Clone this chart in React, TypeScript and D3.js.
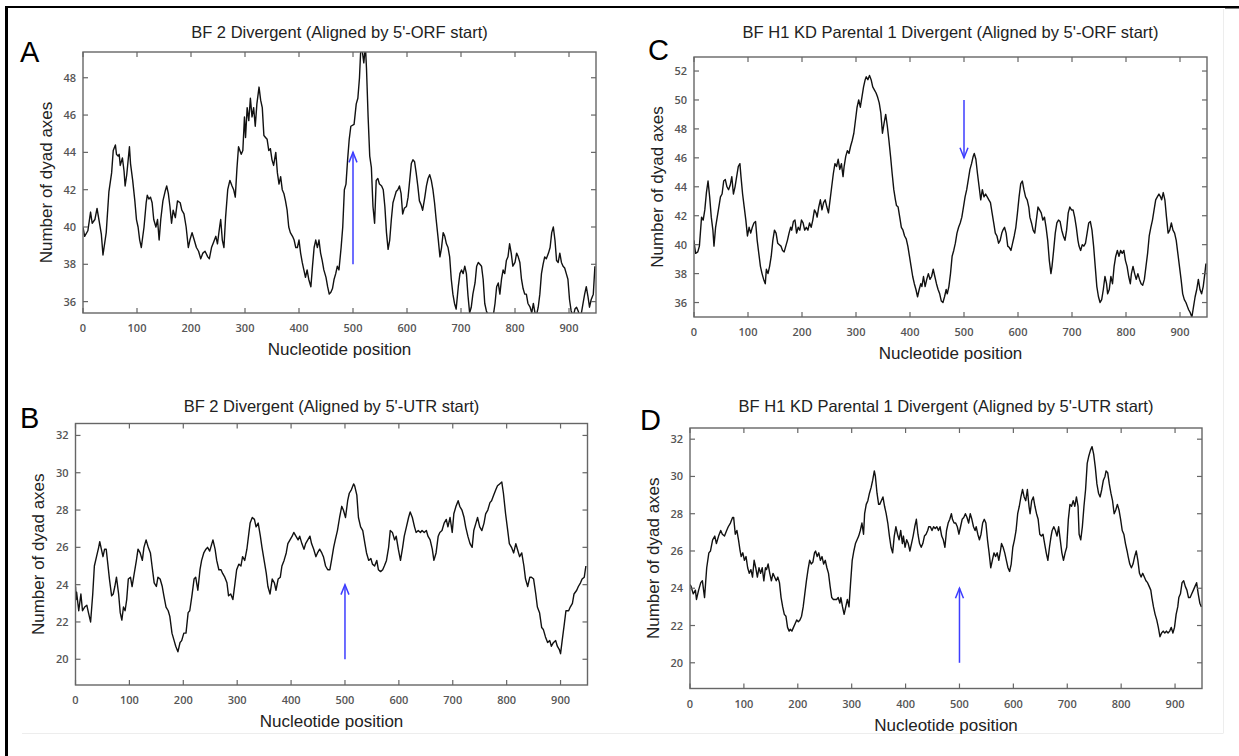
import React from "react";
import * as d3 from "d3";

const xTicks = [0, 100, 200, 300, 400, 500, 600, 700, 800, 900];
const yTicksA = [36, 38, 40, 42, 44, 46, 48];
const yTicksC = [36, 38, 40, 42, 44, 46, 48, 50, 52];
const yTicksBD = [20, 22, 24, 26, 28, 30, 32];

const titleA = "BF 2 Divergent (Aligned by 5'-ORF start)";
const titleB = "BF 2 Divergent (Aligned by 5'-UTR start)";
const titleC = "BF H1 KD Parental 1 Divergent (Aligned by 5'-ORF start)";
const titleD = "BF H1 KD Parental 1 Divergent (Aligned by 5'-UTR start)";
const xLabel = "Nucleotide position";
const yLabel = "Number of dyad axes";

// [nucleotide position, number of dyad axes]
const seriesA: [number, number][] = [
  [0,40.0],[3,39.5],[9,39.8],[14,40.8],[17,40.2],[22,40.4],[26,41.0],[30,40.3],[34,39.6],[37,38.5],[43,39.7],[48,41.9],[53,42.9],[56,44.1],[60,44.4],[62,43.9],[65,43.8],[67,43.9],[69,43.3],[73,43.7],[76,43.0],[78,42.2],[81,42.8],[86,44.3],[88,43.4],[92,42.5],[96,41.4],[99,40.4],[102,40.0],[105,39.3],[108,38.9],[113,40.0],[117,41.3],[119,41.7],[122,41.5],[125,41.6],[128,41.3],[131,40.4],[135,40.0],[138,40.4],[141,39.3],[144,40.4],[148,41.4],[152,41.9],[155,42.2],[158,41.8],[161,41.1],[164,40.2],[167,40.9],[171,40.5],[175,41.4],[180,41.3],[183,40.9],[187,40.7],[191,40.0],[195,38.9],[198,39.3],[202,39.7],[206,39.3],[210,38.9],[214,38.7],[218,38.3],[222,38.6],[226,38.7],[231,38.4],[234,38.3],[238,38.9],[242,39.2],[246,39.5],[249,39.1],[253,40.0],[255,40.4],[258,39.3],[261,38.9],[264,40.5],[268,42.0],[272,42.5],[276,42.2],[279,42.0],[282,41.6],[285,43.1],[288,44.3],[293,43.9],[296,44.1],[299,45.9],[301,44.8],[304,46.4],[307,45.7],[310,46.9],[313,45.9],[316,46.4],[319,45.4],[322,46.6],[326,47.5],[329,46.8],[332,46.4],[335,44.9],[338,44.8],[341,44.7],[344,44.1],[347,44.2],[350,43.6],[353,43.3],[357,44.0],[360,42.9],[363,42.3],[366,42.7],[369,42.0],[372,41.8],[375,41.4],[378,40.9],[381,40.0],[384,39.7],[388,39.5],[391,39.3],[394,38.9],[397,38.9],[400,39.3],[403,38.6],[406,38.1],[409,37.7],[412,37.3],[415,37.7],[418,37.2],[422,36.8],[425,37.9],[428,38.9],[431,39.3],[434,38.9],[437,39.3],[440,38.6],[443,38.2],[446,37.7],[450,37.3],[453,36.8],[456,36.4],[459,36.5],[462,36.7],[465,37.2],[468,37.5],[471,37.9],[474,37.7],[478,38.9],[481,40.0],[484,42.0],[487,42.3],[490,43.6],[493,44.7],[496,45.4],
  [502,45.5],[506,46.6],[509,46.9],[512,48.0],[514,49.3],[516,49.7],[520,48.8],[523,49.7],[525,48.5],[528,45.9],[531,43.8],[534,43.2],[537,41.1],[540,40.2],[543,42.5],[546,42.6],[549,42.3],[553,42.2],[556,42.0],[559,41.1],[562,39.7],[565,38.8],[568,39.3],[571,40.4],[574,41.3],[577,41.6],[580,41.9],[583,42.0],[586,42.2],[589,41.8],[592,40.7],[595,41.0],[599,41.1],[602,41.6],[605,42.5],[608,43.4],[611,43.6],[614,43.5],[617,42.9],[620,42.2],[623,41.4],[626,41.2],[629,40.9],[633,41.6],[636,42.2],[639,42.6],[642,42.8],[645,42.5],[648,42.0],[651,41.3],[654,40.4],[658,39.3],[661,38.4],[664,38.9],[667,39.7],[670,39.5],[673,39.1],[676,38.9],[679,38.4],[682,37.2],[685,36.4],[688,35.9],[691,35.6],[695,36.8],[698,37.5],[701,37.7],[704,37.5],[707,37.9],[710,37.5],[713,36.3],[716,35.4],[719,35.7],[722,36.4],[726,37.0],[729,37.9],[732,38.1],[735,38.0],[738,37.9],[741,37.2],[744,35.9],[747,35.5],[750,35.3],[753,35.3],[757,35.2],[760,35.3],[763,35.9],[766,36.8],[769,37.0],[772,36.4],[775,37.2],[778,37.7],[781,37.5],[784,38.2],[787,38.4],[790,39.1],[793,38.6],[796,37.9],[800,38.1],[803,38.6],[806,38.4],[809,38.1],[812,37.2],[815,36.7],[818,36.4],[821,36.4],[824,35.9],[828,35.7],[831,35.4],[834,35.9],[837,35.4],[840,35.3],[843,35.7],[846,36.4],[849,37.5],[852,38.0],[855,38.4],[858,38.3],[862,38.6],[865,38.9],[868,39.7],[871,40.0],[874,39.3],[877,38.2],[880,38.1],[883,38.6],[886,38.1],[889,37.9],[892,37.8],[895,37.5],[898,37.2],[901,36.1],[904,35.5],[908,35.2],[911,35.6],[914,35.7],[917,35.5],[920,35.2],[923,35.4],[926,35.9],[929,36.4],[932,36.8],[935,36.3],[938,35.7],[941,36.1],[945,36.4],[948,37.9]
];

const seriesB: [number, number][] = [
  [0,23.9],[1,23.2],[2,23.6],[6,22.6],[10,23.5],[13,22.6],[17,22.8],[21,22.9],[24,22.5],[28,22.0],[32,23.5],[35,25.0],[39,25.5],[43,26.0],[45,26.3],[48,25.9],[51,25.5],[54,25.9],[57,25.9],[60,25.1],[63,24.3],[67,23.4],[70,23.5],[73,23.9],[76,24.4],[80,23.5],[83,22.5],[86,22.1],[89,22.8],[92,22.6],[95,23.2],[98,24.3],[102,24.4],[105,23.9],[109,24.6],[113,25.3],[116,25.9],[120,25.7],[124,25.3],[127,26.0],[131,26.4],[135,26.0],[139,25.7],[142,25.0],[146,24.1],[150,23.9],[153,24.4],[157,24.3],[161,23.9],[164,23.4],[168,22.8],[172,22.6],[175,22.3],[179,21.4],[183,21.0],[186,20.7],[190,20.4],[194,20.9],[197,21.0],[201,21.4],[205,21.4],[209,22.5],[212,22.6],[216,23.4],[220,24.3],[223,24.4],[227,23.7],[231,24.8],[234,25.3],[238,25.7],[242,25.9],[245,26.0],[249,25.8],[253,26.2],[255,26.4],[259,25.9],[262,25.3],[266,24.8],[270,24.8],[273,24.6],[277,24.4],[281,24.1],[284,23.4],[288,23.5],[292,23.2],[296,24.1],[299,24.8],[303,25.1],[307,25.0],[310,25.5],[314,25.3],[318,25.9],[321,26.6],[324,27.3],[328,27.6],[332,27.5],[335,27.1],[339,27.3],[343,26.6],[346,26.0],[350,25.3],[354,24.6],[357,23.9],[361,23.5],[365,24.3],[369,24.1],[372,23.7],[376,24.3],[380,24.4],[383,25.0],[387,25.3],[391,25.7],[394,26.2],[398,26.4],[402,26.6],[405,26.8],[409,26.6],[413,26.4],[416,26.6],[420,26.2],[424,25.9],[427,26.2],[431,26.4],[435,26.6],[438,26.2],[442,25.9],[446,25.5],[449,25.7],[453,25.9],[457,25.7],[460,25.5],[464,25.0],[468,24.8],[472,24.8],[475,25.3],[479,26.0],[482,26.4],[486,26.9],[490,27.6],[494,28.2],[497,28.0],[501,27.6],[505,28.5],[508,28.9],[512,29.1],[516,29.4],[518,29.3],[522,28.8],[525,27.6],[529,27.1],[533,26.9],[537,26.2],[540,25.7],[544,25.3],[548,25.4],[551,25.1],[555,25.0],[559,25.3],[562,24.8],[566,24.7],[570,24.8],[573,25.0],[577,25.3],[581,26.0],[584,26.9],[588,26.8],[592,26.4],[595,26.6],[599,25.9],[603,25.3],[607,26.0],[610,26.6],[614,27.1],[618,27.6],[621,27.9],[625,27.6],[629,27.1],[632,26.8],[636,26.9],[640,26.8],[643,26.9],[647,26.8],[651,26.9],[654,26.6],[658,26.4],[662,25.9],[665,25.3],[669,25.7],[673,26.6],[676,26.8],[680,26.9],[684,27.3],[688,27.5],[691,27.1],[695,27.6],[699,26.8],[702,27.8],[706,28.2],[710,28.5],[713,28.2],[717,28.0],[721,27.6],[724,27.1],[728,26.6],[732,26.2],[736,26.0],[739,26.9],[743,27.3],[746,27.6],[750,27.1],[754,26.9],[758,27.3],[761,27.8],[765,28.0],[769,28.4],[772,28.5],[776,28.8],[780,29.1],[783,29.3],[787,29.4],[791,29.5],[794,28.9],[798,27.8],[802,26.9],[805,26.2],[809,26.0],[813,25.7],[817,26.2],[820,25.9],[824,25.5],[828,25.7],[832,25.0],[835,24.3],[839,23.9],[843,24.4],[846,24.4],[850,24.3],[854,23.5],[857,22.8],[861,22.5],[865,21.7],[868,21.6],[872,21.2],[876,20.9],[880,21.0],[883,20.7],[887,20.9],[891,21.0],[894,20.7],[898,20.5],[900,20.3],[903,21.0],[907,21.9],[910,22.6],[915,22.6],[918,22.8],[922,23.0],[925,23.5],[930,23.7],[933,23.9],[937,24.1],[940,24.3],[944,24.4],[947,25.0]
];

const seriesC: [number, number][] = [
  [0,40.3],[1,39.9],[3,39.4],[7,39.5],[10,39.9],[14,41.9],[17,41.7],[20,42.4],[23,43.6],[26,44.4],[29,43.3],[32,41.9],[35,41.0],[37,39.9],[40,41.2],[43,41.9],[46,42.6],[49,43.3],[52,43.5],[55,44.4],[58,44.5],[61,44.0],[64,43.8],[67,44.1],[70,44.7],[73,43.5],[76,44.0],[79,44.7],[82,45.4],[85,45.6],[87,44.7],[90,43.5],[93,42.6],[96,41.7],[99,40.6],[102,41.2],[105,40.8],[108,41.2],[111,41.5],[114,41.6],[117,40.3],[120,39.4],[123,38.5],[126,38.0],[129,37.6],[132,37.3],[134,38.3],[137,38.0],[140,38.5],[143,39.2],[146,40.3],[149,41.0],[152,40.8],[155,40.1],[158,40.0],[161,39.9],[164,39.6],[167,39.5],[170,39.9],[173,40.3],[176,40.8],[179,41.2],[181,41.0],[184,41.6],[187,41.7],[190,40.8],[193,41.2],[196,41.0],[199,41.7],[202,41.5],[205,41.0],[208,41.2],[211,41.0],[214,41.5],[217,41.2],[220,41.7],[223,42.4],[226,42.2],[228,41.9],[231,42.6],[234,43.1],[237,42.4],[240,42.9],[243,43.1],[246,42.6],[249,42.2],[252,43.1],[255,44.0],[258,44.9],[261,45.6],[264,45.4],[267,45.9],[270,45.2],[273,45.6],[276,44.7],[278,45.4],[281,46.1],[284,46.5],[287,46.3],[290,46.8],[293,47.2],[296,47.7],[299,48.6],[302,49.5],[305,50.0],[308,49.5],[311,50.2],[314,50.9],[317,51.4],[319,51.6],[322,51.4],[325,51.7],[328,51.4],[331,50.9],[334,50.7],[337,50.5],[340,50.2],[343,49.8],[346,49.1],[349,47.7],[352,48.4],[355,49.0],[358,48.2],[361,47.2],[364,46.1],[367,44.9],[370,43.8],[373,43.1],[375,42.7],[378,42.6],[381,41.9],[384,41.2],[387,41.0],[390,40.6],[393,40.4],[396,39.9],[399,39.2],[402,38.5],[405,37.8],[408,37.3],[411,36.9],[414,36.4],[417,36.9],[420,37.3],[422,37.1],[425,37.8],[428,37.1],[431,37.6],[434,38.0],[437,37.6],[440,37.8],[443,38.3],[446,37.8],[449,37.3],[452,36.9],[455,36.6],[458,36.1],[461,36.0],[464,36.4],[467,36.9],[469,36.6],[472,37.1],[475,38.0],[478,39.2],[481,39.6],[484,40.1],[487,40.8],[490,41.2],[493,41.5],[496,41.9],[499,42.6],[502,43.3],[505,43.8],[508,44.5],[511,45.2],[514,45.6],[517,46.1],[519,46.3],[522,45.9],[525,44.9],[528,44.0],[531,43.1],[534,43.8],[537,43.3],[540,43.5],[543,43.3],[546,43.1],[549,42.9],[552,42.2],[555,41.5],[558,40.8],[561,40.6],[564,40.1],[567,40.3],[570,40.8],[572,41.0],[575,41.2],[578,40.8],[581,39.9],[584,39.8],[587,39.6],[590,40.1],[593,40.6],[596,41.2],[599,42.2],[602,43.3],[605,44.2],[608,44.4],[611,43.8],[614,43.3],[617,43.1],[620,42.6],[622,41.9],[625,41.5],[628,41.0],[631,40.8],[634,41.7],[637,42.6],[640,42.4],[643,42.2],[646,41.7],[649,41.9],[652,41.2],[655,40.3],[658,38.9],[661,38.0],[663,38.5],[666,39.6],[669,40.8],[672,41.5],[675,41.7],[678,41.6],[681,41.0],[684,40.6],[687,40.3],[690,41.0],[693,42.2],[696,42.6],[699,42.4],[702,42.4],[705,41.9],[708,41.2],[711,40.3],[713,39.9],[716,39.6],[719,40.0],[722,39.9],[725,40.1],[728,40.8],[731,41.5],[734,41.6],[737,41.0],[740,39.9],[743,38.5],[746,37.1],[749,36.4],[752,36.0],[755,36.2],[758,36.9],[761,37.8],[764,37.3],[766,36.6],[769,36.9],[772,37.8],[775,37.3],[778,38.5],[781,39.2],[784,39.6],[787,39.2],[790,39.6],[793,39.4],[796,39.6],[799,38.9],[802,38.5],[805,37.8],[808,37.3],[810,38.0],[813,38.5],[816,38.0],[819,37.6],[822,38.0],[825,37.6],[828,37.3],[831,37.2],[834,37.6],[837,38.5],[840,39.4],[843,40.6],[846,41.2],[849,41.7],[852,42.4],[855,43.1],[858,43.3],[861,43.5],[864,43.3],[866,43.1],[869,43.6],[872,43.1],[875,41.9],[878,40.8],[881,41.0],[884,41.5],[887,41.0],[890,40.8],[893,40.3],[896,39.4],[899,38.5],[902,37.6],[905,36.6],[908,36.2],[911,36.0],[914,35.7],[916,35.5],[919,35.3],[922,35.0],[925,35.7],[928,36.4],[931,36.9],[934,37.6],[937,36.9],[940,36.6],[943,37.1],[946,38.0],[948,38.7]
];

const seriesD: [number, number][] = [
  [0,24.2],[2,24.1],[6,23.7],[10,23.9],[12,23.4],[16,23.9],[20,24.3],[23,24.4],[27,23.5],[31,25.1],[35,25.9],[38,26.0],[42,26.6],[46,26.8],[49,26.4],[53,26.8],[57,27.1],[60,26.9],[64,26.8],[68,27.1],[71,27.3],[75,27.5],[79,27.8],[81,27.8],[84,26.9],[87,27.1],[90,26.6],[93,26.0],[95,25.7],[98,25.9],[101,25.5],[104,25.7],[107,25.1],[110,24.8],[113,25.0],[116,24.6],[119,25.5],[122,25.1],[125,24.6],[128,25.1],[131,24.8],[134,25.1],[137,24.4],[140,25.1],[142,25.0],[145,25.3],[148,24.8],[151,24.4],[154,24.8],[157,24.6],[160,24.4],[163,24.6],[166,24.3],[169,23.5],[172,23.0],[175,22.6],[178,22.5],[181,21.9],[184,21.7],[186,21.8],[189,21.7],[192,21.9],[195,22.1],[198,22.3],[201,22.2],[204,22.3],[207,22.5],[210,23.0],[213,23.7],[216,24.4],[219,25.0],[222,25.5],[225,25.3],[228,25.4],[231,25.9],[233,26.0],[236,25.7],[239,25.9],[242,25.5],[245,25.7],[248,25.3],[251,25.5],[254,25.1],[257,24.8],[260,24.1],[263,23.5],[266,23.4],[269,23.4],[272,23.4],[275,23.5],[278,23.2],[280,23.5],[283,23.0],[286,22.6],[289,23.0],[292,23.4],[295,23.0],[298,24.3],[301,25.5],[304,26.0],[307,26.4],[310,26.6],[313,26.8],[316,27.1],[319,27.5],[322,26.9],[324,28.0],[327,28.5],[330,28.7],[333,29.1],[336,29.4],[339,29.8],[342,30.3],[344,30.0],[347,29.1],[350,28.5],[352,28.5],[355,28.7],[358,28.9],[361,28.4],[364,28.0],[367,27.5],[370,26.8],[373,26.2],[376,25.9],[379,26.8],[382,27.3],[385,26.9],[388,26.6],[391,27.1],[394,26.4],[396,26.8],[399,26.2],[402,26.6],[405,26.4],[408,26.0],[411,26.4],[414,26.8],[417,27.3],[420,27.7],[423,26.9],[426,26.4],[429,26.2],[432,26.4],[435,26.8],[438,26.9],[441,27.1],[443,27.3],[446,27.3],[449,27.1],[452,27.3],[455,27.2],[458,27.3],[461,27.1],[464,27.3],[467,26.8],[470,26.6],[473,26.2],[476,27.1],[479,27.5],[482,27.7],[485,28.0],[487,27.7],[490,27.5],[493,27.5],[496,27.3],[499,26.9],[502,27.3],[505,27.7],[508,27.8],[511,28.0],[514,27.8],[517,27.5],[520,28.0],[523,27.7],[526,27.3],[529,27.1],[531,27.3],[534,26.9],[537,26.6],[540,26.9],[543,27.5],[546,27.7],[549,27.5],[552,26.6],[555,25.9],[558,25.1],[561,25.5],[564,25.9],[567,25.7],[570,25.9],[573,25.5],[576,26.0],[578,26.4],[581,26.2],[584,25.9],[587,25.5],[590,25.1],[593,24.9],[596,25.3],[599,26.2],[602,26.6],[605,27.1],[608,28.0],[611,28.4],[614,28.9],[617,29.3],[620,28.9],[623,28.7],[626,29.3],[629,28.4],[631,28.0],[634,28.7],[637,28.9],[640,28.4],[643,28.0],[646,27.7],[649,26.9],[652,26.8],[655,26.9],[658,26.4],[661,25.9],[664,25.5],[667,26.2],[670,26.8],[672,27.1],[675,27.3],[678,27.1],[681,26.8],[684,27.3],[687,26.6],[690,25.9],[693,25.5],[696,25.9],[699,26.2],[702,27.7],[705,28.5],[708,28.4],[711,28.7],[714,28.4],[717,28.9],[720,28.4],[722,26.9],[725,26.6],[728,27.3],[731,28.4],[734,29.3],[737,30.7],[740,31.1],[743,31.4],[746,31.6],[749,31.2],[752,30.5],[755,29.6],[758,29.1],[761,28.9],[764,29.3],[767,29.8],[770,30.0],[772,30.3],[775,30.2],[778,29.6],[781,29.1],[784,28.7],[787,28.0],[790,28.2],[793,28.5],[796,28.2],[799,27.7],[802,27.1],[805,26.9],[808,26.4],[811,26.0],[813,25.7],[816,25.3],[819,25.1],[822,25.3],[825,25.7],[828,26.0],[831,25.5],[834,24.8],[837,24.6],[840,24.8],[843,24.6],[846,24.4],[849,24.3],[852,24.1],[855,23.9],[857,23.5],[860,23.0],[863,22.6],[866,22.3],[869,21.9],[872,21.4],[875,21.6],[878,21.7],[881,21.6],[884,21.7],[887,21.6],[890,21.7],[893,21.9],[896,21.6],[899,21.9],[902,22.6],[905,23.0],[907,23.5],[910,23.7],[913,24.3],[916,24.4],[919,24.1],[922,23.9],[925,23.5],[928,23.5],[931,23.7],[934,23.9],[937,24.1],[940,24.3],[943,23.7],[946,23.2],[949,23.0]
];

// arrows: [position, from value, to value]
const arrowA = [500, 38, 44];
const arrowB = [500, 20, 24];
const arrowC = [500, 50, 46];
const arrowD = [500, 20, 24];

const panels = [
  { id: "A", letter: "A", title: titleA, data: seriesA, yTicks: yTicksA, yDomain: [35.39, 49.38], arrow: arrowA,
    left: 83, right: 596, top: 52, bottom: 313, titleY: 38, letterX: 20, letterY: 62 },
  { id: "C", letter: "C", title: titleC, data: seriesC, yTicks: yTicksC, yDomain: [35.0, 52.97], arrow: arrowC,
    left: 694, right: 1207, top: 57, bottom: 317, titleY: 38, letterX: 648, letterY: 60 },
  { id: "B", letter: "B", title: titleB, data: seriesB, yTicks: yTicksBD, yDomain: [18.62, 32.64], arrow: arrowB,
    left: 75.5, right: 587.5, top: 423.5, bottom: 685, titleY: 412, letterX: 20, letterY: 428 },
  { id: "D", letter: "D", title: titleD, data: seriesD, yTicks: yTicksBD, yDomain: [18.62, 32.6], arrow: arrowD,
    left: 690, right: 1202, top: 428, bottom: 688.5, titleY: 412, letterX: 640, letterY: 430 },
];

const FONT = "'Liberation Sans', Arial, sans-serif";
const TICKFONT = "'Open Sans', 'DejaVu Sans', sans-serif";

function Panel({ p }: { p: any }) {
  const x = d3.scaleLinear().domain([0, 950]).range([p.left, p.right]);
  const y = d3.scaleLinear().domain(p.yDomain).range([p.bottom, p.top]);
  const line = d3.line<[number, number]>().x((d) => x(d[0])).y((d) => y(d[1]));
  const cx = (p.left + p.right) / 2;
  const cy = (p.top + p.bottom) / 2;
  const clipId = "clip" + p.id;
  const [ax, a0, a1] = p.arrow;
  const axp = x(ax);
  const y0 = y(a0);
  const y1 = y(a1);
  const dir = y1 < y0 ? 1 : -1; // head wings go back toward start
  const tl = 5;
  return (
    <g>
      <defs>
        <clipPath id={clipId}>
          <rect x={p.left} y={p.top} width={p.right - p.left} height={p.bottom - p.top} />
        </clipPath>
      </defs>
      <text x={cx} y={p.titleY} textAnchor="middle" fontFamily={FONT} fontSize={16.5} fill="#222">
        {p.title}
      </text>
      <text x={p.letterX} y={p.letterY} fontFamily={FONT} fontSize={29} fill="#000">
        {p.letter}
      </text>
      <path d={line(p.data) || ""} fill="none" stroke="#111" strokeWidth={1.4} strokeLinejoin="round" clipPath={`url(#${clipId})`} />
      <rect x={p.left} y={p.top} width={p.right - p.left} height={p.bottom - p.top} fill="none" stroke="#666" strokeWidth={1.4} />
      {xTicks.map((t) => (
        <g key={"x" + t}>
          <line x1={x(t)} x2={x(t)} y1={p.bottom} y2={p.bottom - tl} stroke="#666" strokeWidth={1.2} />
          <line x1={x(t)} x2={x(t)} y1={p.top} y2={p.top + tl} stroke="#666" strokeWidth={1.2} />
          <text x={x(t)} y={p.bottom + 19} textAnchor="middle" fontFamily={TICKFONT} fontSize={11} fontWeight={600} fill="#555">
            {t}
          </text>
        </g>
      ))}
      {p.yTicks.map((t: number) => (
        <g key={"y" + t}>
          <line x1={p.left} x2={p.left + tl} y1={y(t)} y2={y(t)} stroke="#666" strokeWidth={1.2} />
          <line x1={p.right} x2={p.right - tl} y1={y(t)} y2={y(t)} stroke="#666" strokeWidth={1.2} />
          <text x={p.left - 7} y={y(t) + 4} textAnchor="end" fontFamily={TICKFONT} fontSize={11} fontWeight={600} fill="#555">
            {t}
          </text>
        </g>
      ))}
      <text x={cx} y={p.bottom + 42} textAnchor="middle" fontFamily={FONT} fontSize={17} fill="#222">
        {xLabel}
      </text>
      <text
        transform={`translate(${p.left - 31.5},${cy}) rotate(-90)`}
        textAnchor="middle"
        fontFamily={FONT}
        fontSize={17}
        fill="#222"
      >
        {yLabel}
      </text>
      <g stroke="#3d3dff" strokeWidth={1.5} fill="none">
        <line x1={axp} x2={axp} y1={y0} y2={y1} />
        <polyline points={`${axp - 4},${y1 + dir * 10} ${axp},${y1} ${axp + 4},${y1 + dir * 10}`} />
      </g>
    </g>
  );
}

export default function App() {
  return (
    <svg
      width={1239}
      height={756}
      viewBox="0 0 1239 756"
      style={{ position: "absolute", left: 0, top: 0, display: "block", background: "#fff" }}
    >
      <rect x={0} y={0} width={1239} height={756} fill="#fff" />
      <line x1={1223.5} x2={1223.5} y1={9} y2={733} stroke="#ededed" strokeWidth={1} />
      <line x1={22} x2={1223.5} y1={733.5} y2={733.5} stroke="#ededed" strokeWidth={1} />
      <rect x={5} y={6} width={3} height={750} fill="#000" />
      <rect x={5} y={6} width={1234} height={2} fill="#000" />
      <rect x={1225} y={6} width={14} height={2.5} fill="#000" />
      {panels.map((p) => (
        <Panel key={p.id} p={p} />
      ))}
    </svg>
  );
}
